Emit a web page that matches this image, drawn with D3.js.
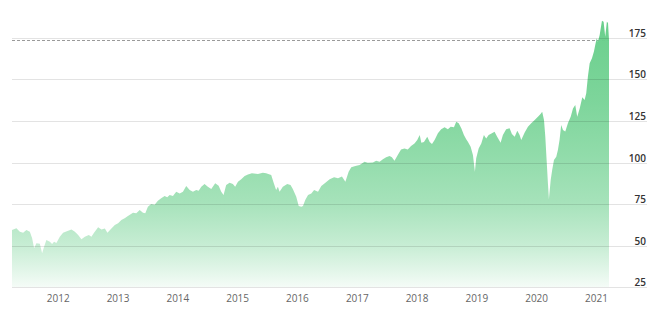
<!DOCTYPE html>
<html>
<head>
<meta charset="utf-8">
<script src="https://cdn.jsdelivr.net/npm/d3@7"></script>
<style>
  html, body { margin: 0; padding: 0; background: #fff; }
  svg { display: block; font-family: "Open Sans", "DejaVu Sans", sans-serif; }
</style>
</head>
<body>
<svg id="chart" width="660" height="318"></svg>
<script>
// values
var dates = [
  "2011-03-25","2011-04-21","2011-05-12","2011-06-01","2011-06-21","2011-07-12","2011-07-26","2011-08-07",
  "2011-08-21","2011-09-11","2011-09-25","2011-10-07","2011-10-21","2011-11-11","2011-11-25","2011-12-07",
  "2011-12-21","2012-01-11","2012-01-31","2012-03-02","2012-03-22","2012-04-12","2012-05-02","2012-05-22",
  "2012-06-12","2012-07-06","2012-07-22","2012-08-07","2012-09-01","2012-09-21","2012-10-12","2012-10-28",
  "2012-11-21","2012-12-12","2013-01-01","2013-01-21","2013-02-10","2013-03-02","2013-04-02","2013-04-22",
  "2013-05-13","2013-06-02","2013-06-16","2013-07-02","2013-07-22","2013-08-12","2013-09-01","2013-09-21",
  "2013-10-12","2013-10-28","2013-11-12","2013-12-02","2013-12-22","2014-01-12","2014-02-01","2014-02-21",
  "2014-03-14","2014-04-03","2014-04-23","2014-05-08","2014-05-24","2014-06-13","2014-07-03","2014-07-24",
  "2014-08-17","2014-09-07","2014-09-23","2014-10-07","2014-10-23","2014-11-13","2014-12-03","2014-12-17",
  "2015-01-03","2015-01-23","2015-02-13","2015-03-05","2015-03-29","2015-05-05","2015-06-04","2015-06-24",
  "2015-07-25","2015-08-10","2015-08-24","2015-09-04","2015-09-14","2015-10-04","2015-10-31","2015-11-20",
  "2015-12-04","2015-12-25","2016-01-09","2016-01-25","2016-02-04","2016-02-18","2016-03-06","2016-03-26",
  "2016-04-12","2016-05-06","2016-05-26","2016-06-20","2016-07-16","2016-08-12","2016-09-05","2016-09-29",
  "2016-10-20","2016-11-09","2016-11-25","2016-12-20","2017-01-15","2017-02-14","2017-03-06","2017-04-06",
  "2017-04-26","2017-05-17","2017-06-06","2017-06-26","2017-07-17","2017-07-31","2017-08-16","2017-09-05",
  "2017-09-25","2017-10-16","2017-11-05","2017-11-25","2017-12-16","2018-01-02","2018-01-17","2018-01-27",
  "2018-02-12","2018-03-04","2018-03-19","2018-04-02","2018-04-18","2018-05-08","2018-05-28","2018-06-18",
  "2018-07-08","2018-07-25","2018-08-14","2018-08-28","2018-09-12","2018-09-28","2018-10-14","2018-10-28",
  "2018-11-08","2018-11-24","2018-12-08","2018-12-20","2018-12-28","2019-01-12","2019-01-28","2019-02-13",
  "2019-02-27","2019-03-14","2019-04-03","2019-04-19","2019-05-05","2019-05-26","2019-06-09","2019-06-29",
  "2019-07-20","2019-08-03","2019-08-20","2019-09-05","2019-09-19","2019-09-29","2019-10-20","2019-11-09",
  "2019-11-29","2019-12-20","2020-01-09","2020-01-25","2020-02-04","2020-02-15","2020-02-23","2020-03-02",
  "2020-03-10","2020-03-16","2020-03-27","2020-04-05","2020-04-16","2020-04-30","2020-05-10","2020-05-20",
  "2020-05-30","2020-06-10","2020-06-24","2020-07-10","2020-07-27","2020-08-10","2020-08-24","2020-09-05",
  "2020-09-20","2020-10-06","2020-10-20","2020-10-30","2020-11-09","2020-11-20","2020-12-04","2020-12-16",
  "2020-12-24","2021-01-02","2021-01-09","2021-01-20","2021-02-03","2021-02-13","2021-02-23","2021-03-05",
  "2021-03-12","2021-03-18"
];
var values = [
  59.3,60.4,58.3,57.7,59.3,58.3,54.3,48.3,
  51.3,51.0,45.3,49.3,53.3,52.3,50.9,52.3,
  51.5,55.3,57.7,58.9,59.7,58.3,56.3,53.7,
  55.3,56.3,55.3,57.7,61.0,59.7,60.3,57.7,
  60.3,62.3,63.4,65.4,66.4,67.8,69.8,69.4,
  71.4,69.8,69.4,73.4,75.0,74.5,77.0,78.4,
  79.8,79.0,80.4,79.8,82.4,81.4,82.4,85.8,
  83.4,82.4,83.4,83.0,85.4,87.0,85.4,84.0,
  87.5,86.0,82.4,80.4,86.4,87.8,87.0,85.4,
  88.4,89.9,91.9,92.8,93.5,93.0,93.9,93.5,
  92.5,87.5,83.4,85.4,82.4,85.4,87.0,86.4,
  84.0,79.4,73.8,73.4,73.8,77.4,80.4,81.4,
  83.4,82.4,85.8,87.8,89.9,91.1,90.5,91.5,
  88.4,94.5,97.1,97.9,98.5,100.5,99.8,100.0,
  101.1,100.5,101.9,103.1,103.9,103.1,101.1,104.5,
  107.9,108.5,107.9,109.9,111.5,113.5,116.5,111.9,
  112.3,115.5,112.3,111.1,113.5,117.6,120.0,121.2,
  120.0,121.6,121.2,124.6,123.6,120.6,116.5,114.0,
  112.3,109.5,104.5,94.5,102.5,108.5,111.5,116.5,
  114.5,116.5,117.6,118.5,115.5,111.9,116.5,120.0,
  120.6,117.2,115.5,119.2,116.5,113.5,118.0,121.6,
  123.6,125.6,127.6,129.2,130.6,125.6,115.5,101.5,
  87.5,77.8,89.5,95.5,101.5,103.5,107.5,113.5,
  122.6,119.6,118.6,123.6,127.6,132.6,134.6,127.6,
  132.6,139.3,137.7,141.7,151.7,159.8,162.8,166.8,
  170.8,174.8,172.8,176.8,185.4,184.8,175.8,184.8,
  184.0,174.0
];
var yTicks = [25, 50, 75, 100, 125, 150, 175];
var xTickYears = [2012, 2013, 2014, 2015, 2016, 2017, 2018, 2019, 2020, 2021];

var width = 660, height = 318;
var left = 12, right = 609, gridRight = 647;
var parse = d3.utcParse("%Y-%m-%d");

var data = dates.map(function(d, i){
  return {date: parse(d), value: values[i]};
});

var x = d3.scaleUtc()
  .domain(d3.extent(data, function(d){ return d.date; }))
  .range([left, right]);

var y = d3.scaleLinear()
  .domain([25, 175])
  .range([287, 38]);

var svg = d3.select("#chart");

// gradient fill, strong at the top, fading to nearly white at the base
var defs = svg.append("defs");
var grad = defs.append("linearGradient")
  .attr("id", "fill")
  .attr("gradientUnits", "userSpaceOnUse")
  .attr("x1", 0).attr("x2", 0)
  .attr("y1", y(185)).attr("y2", y(25));
[[0, 1], [0.3, 0.87], [0.5, 0.74], [0.68, 0.6], [0.84, 0.38], [0.95, 0.17], [1, 0.07]].forEach(function(s){
  grad.append("stop")
    .attr("offset", s[0])
    .attr("stop-color", "#6acf8c")
    .attr("stop-opacity", s[1]);
});

// last price reference line
var last = values[values.length - 1];
svg.append("line")
  .attr("x1", left).attr("x2", right)
  .attr("y1", Math.round(y(last)) + 0.5).attr("y2", Math.round(y(last)) + 0.5)
  .attr("stroke", "#9a9a9a")
  .attr("stroke-width", 1)
  .attr("stroke-dasharray", "3,2");

var area = d3.area()
  .x(function(d){ return x(d.date); })
  .y0(y(25))
  .y1(function(d){ return y(d.value); });

svg.append("path")
  .datum(data)
  .attr("d", area)
  .attr("fill", "url(#fill)");

// horizontal grid, drawn over the area
var grid = svg.append("g").attr("class", "grid");
grid.selectAll("line").data(yTicks).enter().append("line")
  .attr("x1", left).attr("x2", gridRight)
  .attr("y1", function(d){ return Math.round(y(d)) + 0.5; })
  .attr("y2", function(d){ return Math.round(y(d)) + 0.5; })
  .attr("stroke", "rgba(0,0,0,0.11)")
  .attr("stroke-width", 1);

// y labels sit just above their grid line, right aligned
svg.append("g").selectAll("text").data(yTicks).enter().append("text")
  .attr("x", 646)
  .attr("y", function(d){ return Math.round(y(d)) - 1; })
  .attr("text-anchor", "end")
  .attr("font-size", 10)
  .attr("font-weight", 600)
  .attr("fill", "#333")
  .text(function(d){ return d; });

// x labels at each year start
svg.append("g").selectAll("text").data(xTickYears).enter().append("text")
  .attr("x", function(d){ return x(new Date(Date.UTC(d, 0, 1))); })
  .attr("y", 302)
  .attr("text-anchor", "middle")
  .attr("font-size", 10)
  .attr("fill", "#666")
  .text(function(d){ return d; });
</script>
</body>
</html>
